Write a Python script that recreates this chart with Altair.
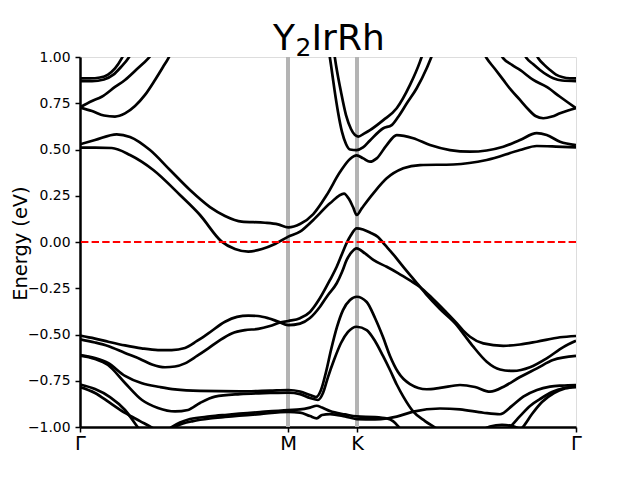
import altair as alt
import pandas as pd

# High-symmetry points along the path (path length units) and their labels
TICK_K = [0.0, 2.08, 2.77, 4.96]
TICK_LABELS = ["Γ", "M", "K", "Γ"]
Y_TICKS = [-1.0, -0.75, -0.5, -0.25, 0.0, 0.25, 0.5, 0.75, 1.0]

# ---- conduction bands ----
C1_k = [0, 0.15, 0.317, 0.50, 0.733, 1.00, 1.20, 1.417, 1.55, 1.683, 1.82, 1.95, 2.083, 2.20, 2.333, 2.50, 2.64, 2.69, 2.73, 2.767, 2.817, 2.933, 3.067, 3.233, 3.40, 3.733, 4.067, 4.40, 4.567, 4.76, 4.96]
C1_E = [0.510, 0.510, 0.508, 0.470, 0.389, 0.254, 0.146, 0.002, -0.038, -0.052, -0.038, -0.011, 0.029, 0.056, 0.119, 0.209, 0.262, 0.232, 0.189, 0.146, 0.182, 0.263, 0.344, 0.398, 0.416, 0.419, 0.443, 0.497, 0.519, 0.516, 0.511]

C2_k = [0, 0.15, 0.367, 0.50, 0.70, 0.90, 1.10, 1.30, 1.45, 1.617, 1.85, 1.98, 2.083, 2.20, 2.333, 2.467, 2.60, 2.70, 2.767, 2.833, 2.90, 2.967, 3.067, 3.167, 3.333, 3.50, 3.70, 3.90, 4.233, 4.40, 4.567, 4.667, 4.80, 4.96]
C2_E = [0.528, 0.551, 0.582, 0.568, 0.497, 0.389, 0.281, 0.189, 0.141, 0.110, 0.104, 0.095, 0.079, 0.097, 0.151, 0.254, 0.378, 0.449, 0.468, 0.452, 0.434, 0.452, 0.524, 0.578, 0.561, 0.524, 0.497, 0.488, 0.515, 0.551, 0.588, 0.578, 0.542, 0.524]

C3_k = [2.48, 2.51, 2.545, 2.58, 2.62, 2.66, 2.70, 2.767, 2.83, 2.90, 3.033, 3.117, 3.183, 3.27, 3.367, 3.467, 3.53]
C3_E = [1.065, 0.957, 0.822, 0.703, 0.595, 0.530, 0.500, 0.497, 0.511, 0.549, 0.615, 0.632, 0.677, 0.751, 0.831, 0.939, 1.022]

C4_k = [2.53, 2.56, 2.61, 2.66, 2.71, 2.75, 2.783, 2.84, 2.90, 3.033, 3.167, 3.30, 3.40, 3.44]
C4_E = [1.065, 0.957, 0.811, 0.686, 0.611, 0.578, 0.570, 0.586, 0.605, 0.659, 0.723, 0.849, 0.975, 1.038]

E1_k = [0, 0.12, 0.217, 0.35, 0.45, 0.57, 0.683, 0.75]
E1_E = [0.728, 0.762, 0.785, 0.838, 0.876, 0.935, 0.993, 1.038]

E2_k = [0, 0.12, 0.24, 0.35, 0.45, 0.55, 0.65, 0.75, 0.83, 0.883, 0.92]
E2_E = [0.727, 0.708, 0.684, 0.678, 0.695, 0.735, 0.795, 0.876, 0.946, 0.993, 1.032]

F1_k = [0, 0.10, 0.20, 0.28, 0.35, 0.417, 0.45]
F1_E = [0.885, 0.884, 0.889, 0.905, 0.938, 0.993, 1.027]

F2_k = [0, 0.12, 0.24, 0.33, 0.41, 0.483, 0.52]
F2_E = [0.870, 0.869, 0.878, 0.903, 0.946, 0.993, 1.027]

E2r_k = [4.02, 4.067, 4.15, 4.233, 4.31, 4.40, 4.48, 4.555, 4.633, 4.72, 4.80, 4.88, 4.96]
E2r_E = [1.038, 0.993, 0.935, 0.876, 0.822, 0.768, 0.719, 0.681, 0.669, 0.678, 0.696, 0.711, 0.724]

E1r_k = [4.18, 4.233, 4.32, 4.40, 4.533, 4.667, 4.80, 4.88, 4.96]
E1r_E = [1.038, 0.993, 0.957, 0.930, 0.876, 0.838, 0.785, 0.754, 0.724]

F1r_k = [4.42, 4.467, 4.53, 4.60, 4.67, 4.733, 4.82, 4.96]
F1r_E = [1.038, 0.993, 0.962, 0.930, 0.903, 0.885, 0.873, 0.870]

F2r_k = [4.54, 4.583, 4.64, 4.70, 4.76, 4.82, 4.90, 4.96]
F2r_E = [1.038, 0.993, 0.959, 0.930, 0.905, 0.892, 0.885, 0.885]

# ---- valence bands ----
V1_k = [0, 0.15, 0.28, 0.45, 0.60, 0.72, 0.85, 0.95, 1.05, 1.17, 1.283, 1.40, 1.517, 1.65, 1.783, 1.90, 2.00, 2.083, 2.20, 2.30, 2.40, 2.50, 2.567, 2.62, 2.667, 2.71, 2.767, 2.83, 2.90, 2.98, 3.05, 3.13, 3.233, 3.35, 3.46, 3.60, 3.767, 3.85, 3.933, 4.067, 4.20, 4.333, 4.50, 4.667, 4.833, 4.96]
V1_E = [-0.526, -0.543, -0.562, -0.600, -0.632, -0.662, -0.677, -0.673, -0.656, -0.616, -0.575, -0.530, -0.494, -0.476, -0.470, -0.454, -0.435, -0.427, -0.412, -0.378, -0.303, -0.205, -0.134, -0.065, -0.005, 0.038, 0.074, 0.068, 0.051, 0.027, -0.016, -0.065, -0.134, -0.210, -0.281, -0.362, -0.449, -0.508, -0.566, -0.647, -0.689, -0.697, -0.677, -0.629, -0.568, -0.534]

V2_k = [0, 0.15, 0.283, 0.45, 0.617, 0.78, 0.917, 1.05, 1.17, 1.283, 1.45, 1.57, 1.683, 1.78, 1.883, 1.98, 2.083, 2.20, 2.30, 2.40, 2.48, 2.567, 2.62, 2.667, 2.71, 2.767, 2.85, 2.933, 3.067, 3.18, 3.30, 3.40, 3.52, 3.65, 3.767, 3.83, 3.90, 4.033, 4.233, 4.40, 4.567, 4.80, 4.96]
V2_E = [-0.506, -0.522, -0.539, -0.559, -0.575, -0.584, -0.584, -0.573, -0.535, -0.494, -0.431, -0.405, -0.398, -0.400, -0.412, -0.430, -0.449, -0.441, -0.411, -0.350, -0.286, -0.223, -0.162, -0.097, -0.059, -0.034, -0.062, -0.097, -0.134, -0.168, -0.208, -0.243, -0.303, -0.373, -0.439, -0.478, -0.512, -0.548, -0.561, -0.554, -0.539, -0.515, -0.508]

V3_k = [0, 0.15, 0.28, 0.45, 0.62, 0.80, 0.95, 1.20, 1.60, 1.90, 2.083, 2.20, 2.30, 2.36, 2.41, 2.46, 2.51, 2.57, 2.63, 2.70, 2.767, 2.867, 2.95, 3.03, 3.10, 3.18, 3.30, 3.467, 3.60, 3.80, 3.95, 4.10, 4.25, 4.40, 4.57, 4.73, 4.96]
V3_E = [-0.611, -0.627, -0.654, -0.724, -0.764, -0.784, -0.797, -0.805, -0.807, -0.803, -0.800, -0.808, -0.827, -0.838, -0.800, -0.703, -0.584, -0.459, -0.368, -0.314, -0.296, -0.324, -0.411, -0.514, -0.616, -0.703, -0.768, -0.796, -0.789, -0.773, -0.784, -0.809, -0.778, -0.730, -0.683, -0.638, -0.616]

V4_k = [0, 0.15, 0.28, 0.45, 0.62, 0.78, 0.95, 1.08, 1.20, 1.35, 1.60, 1.90, 2.083, 2.20, 2.30, 2.38, 2.43, 2.48, 2.54, 2.61, 2.68, 2.767, 2.867, 2.95, 3.03, 3.10, 3.17, 3.233, 3.333, 3.45, 3.55, 3.65]
V4_E = [-0.614, -0.632, -0.665, -0.762, -0.854, -0.897, -0.916, -0.908, -0.870, -0.836, -0.822, -0.816, -0.814, -0.822, -0.843, -0.854, -0.816, -0.730, -0.638, -0.546, -0.486, -0.458, -0.476, -0.535, -0.616, -0.692, -0.773, -0.836, -0.917, -0.968, -1.003, -1.038]

D1_k = [0, 0.15, 0.30, 0.45, 0.58, 0.65]
D1_E = [-0.770, -0.795, -0.838, -0.908, -1.003, -1.054]

D2_k = [0, 0.15, 0.30, 0.45, 0.60, 0.72, 0.80]
D2_E = [-0.784, -0.816, -0.870, -0.924, -0.968, -1.003, -1.032]

W1_k = [0.82, 0.92, 1.00, 1.10, 1.30, 1.45, 1.80, 2.083, 2.20, 2.30, 2.367, 2.42, 2.50, 2.65, 2.767, 2.95, 3.07, 3.13, 3.18, 3.24]
W1_E = [-1.043, -1.000, -0.976, -0.957, -0.943, -0.935, -0.919, -0.908, -0.905, -0.895, -0.885, -0.895, -0.914, -0.932, -0.943, -0.946, -0.954, -0.968, -0.995, -1.038]

W2_k = [0.86, 0.95, 1.03, 1.13, 1.30, 1.45, 1.80, 2.083, 2.20, 2.30, 2.367, 2.42, 2.50, 2.65, 2.767, 2.95, 3.07, 3.167, 3.333, 3.60, 3.80, 4.033, 4.20, 4.32, 4.433, 4.57, 4.70, 4.82, 4.96]
W2_E = [-1.043, -1.000, -0.981, -0.968, -0.954, -0.946, -0.930, -0.919, -0.922, -0.941, -0.953, -0.935, -0.930, -0.943, -0.957, -0.959, -0.954, -0.944, -0.917, -0.900, -0.905, -0.923, -0.931, -0.886, -0.836, -0.800, -0.782, -0.776, -0.773]

R0_k = [3.98, 4.10, 4.22, 4.34, 4.46]
R0_E = [-1.032, -0.997, -0.988, -0.997, -1.032]

R1_k = [4.23, 4.30, 4.40, 4.50, 4.60, 4.72, 4.84, 4.96]
R1_E = [-1.032, -1.000, -0.941, -0.886, -0.849, -0.811, -0.789, -0.781]

R2_k = [4.37, 4.43, 4.52, 4.62, 4.74, 4.85, 4.96]
R2_E = [-1.032, -1.000, -0.930, -0.865, -0.816, -0.792, -0.784]

BANDS = {
    "C1": (C1_k, C1_E), "C2": (C2_k, C2_E), "C3": (C3_k, C3_E), "C4": (C4_k, C4_E),
    "E1": (E1_k, E1_E), "E2": (E2_k, E2_E), "F1": (F1_k, F1_E), "F2": (F2_k, F2_E),
    "E1r": (E1r_k, E1r_E), "E2r": (E2r_k, E2r_E), "F1r": (F1r_k, F1r_E), "F2r": (F2r_k, F2r_E),
    "V1": (V1_k, V1_E), "V2": (V2_k, V2_E), "V3": (V3_k, V3_E), "V4": (V4_k, V4_E),
    "D1": (D1_k, D1_E), "D2": (D2_k, D2_E), "W1": (W1_k, W1_E), "W2": (W2_k, W2_E),
    "R0": (R0_k, R0_E), "R1": (R1_k, R1_E), "R2": (R2_k, R2_E),
}

rows = []
for name, (ks, es) in BANDS.items():
    for i, (k, e) in enumerate(zip(ks, es)):
        rows.append({"band": name, "i": i, "k": k, "E": e})
df = pd.DataFrame(rows)

FONT = "DejaVu Sans"
# Title "Y2IrRh" with the 2 as a subscript: pieces, font sizes, x offsets, baseline shifts
TITLE_PARTS = ["Y", "2", "IrRh"]
TITLE_SIZES = [36, 25, 36]
TITLE_X = [193, 215.5, 231.5]
TITLE_Y = [-7, -1.5, -7]

label_expr = " : ".join(
    f"abs(datum.value - {k}) < 0.01 ? '{lab}'" for k, lab in zip(TICK_K, TICK_LABELS)
) + " : ''"

xscale = alt.Scale(domain=[0, 4.96], nice=False, zero=False)
yscale = alt.Scale(domain=[-1, 1], nice=False, zero=False)

xaxis = alt.Axis(values=TICK_K, labelExpr=label_expr, title=None, grid=False,
                 labelFont=FONT, labelFontSize=19.4, labelColor="black",
                 tickColor="black", tickWidth=1.5, tickSize=5, labelPadding=2,
                 domainColor="black", domainWidth=2.5, labelFlush=False)
yaxis = alt.Axis(values=Y_TICKS, labelExpr="replace(format(datum.value, '.2f'), '-', '\u2212')",
                 title="Energy (eV)", grid=False,
                 labelFont=FONT, labelFontSize=13.9, labelColor="black",
                 tickColor="black", tickWidth=1.5, tickSize=5, labelPadding=5,
                 domainColor="black", domainWidth=2.5,
                 titleFont=FONT, titleFontSize=19.4, titleFontWeight="normal",
                 titleColor="black", titleX=-54, titleY=186, titleAlign="center",
                 titleBaseline="alphabetic", titleAngle=270)

sym_df = pd.DataFrame({"k": TICK_K[1:3]})
vlines = alt.Chart(sym_df).mark_rule(color="#b4b4b4", strokeWidth=4).encode(
    x=alt.X("k:Q", scale=xscale, axis=xaxis)
)

bands = alt.Chart(df).mark_line(color="black", strokeWidth=2.7, interpolate="monotone", clip=True).encode(
    x=alt.X("k:Q", scale=xscale, axis=xaxis),
    y=alt.Y("E:Q", scale=yscale, axis=yaxis),
    detail="band:N",
    order="i:Q",
)

zero_df = pd.DataFrame({"E": [0.0]})
zero = alt.Chart(zero_df).mark_rule(color="#ff0000", strokeWidth=2, strokeDash=[7.4, 3.2]).encode(
    y=alt.Y("E:Q", scale=yscale)
)

title_layers = []
for part, size, tx, ty in zip(TITLE_PARTS, TITLE_SIZES, TITLE_X, TITLE_Y):
    title_layers.append(
        alt.Chart(pd.DataFrame({"t": [part]})).mark_text(
            font=FONT, fontSize=size, color="black", align="left", baseline="alphabetic"
        ).encode(text="t:N", x=alt.value(tx), y=alt.value(ty))
    )

chart = alt.layer(vlines, bands, zero, *title_layers).properties(
    width=496, height=370,
    autosize=alt.AutoSizeParams(type="none"),
    padding={"left": 72, "top": 49, "right": 56, "bottom": 45},
).configure_view(stroke="black", strokeWidth=2.5).configure(background="white")

chart.save("out.html", embed_options={"renderer": "svg", "actions": False})
